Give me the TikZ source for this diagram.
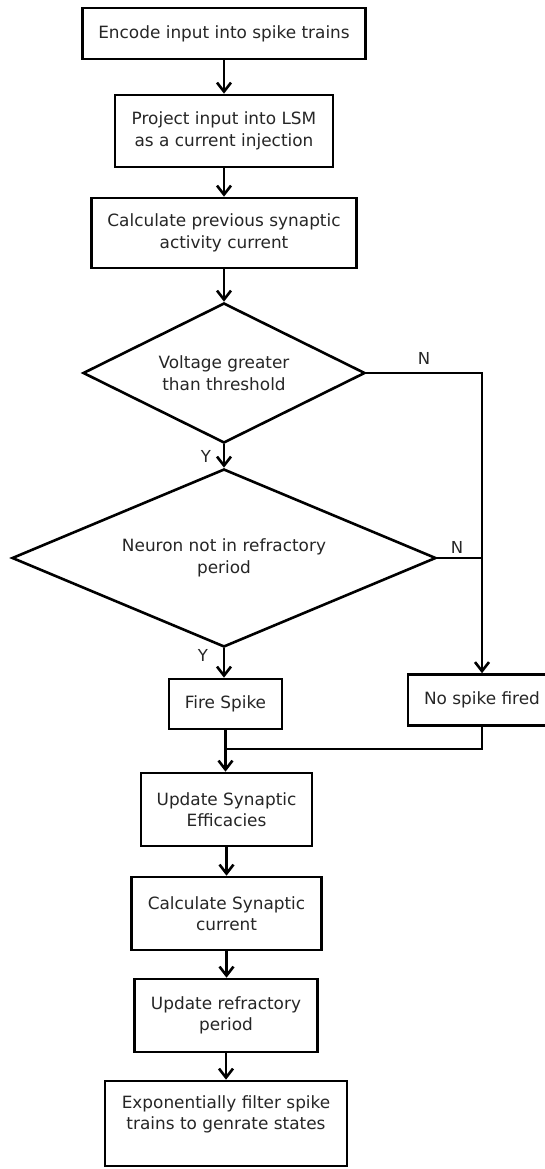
\documentclass[tikz,border=0pt]{standalone}
\usepackage{fontspec}
\setmainfont{DejaVu Sans}
\usetikzlibrary{shapes.geometric,arrows.meta}
\definecolor{txt}{HTML}{262626}
\begin{document}
\begin{tikzpicture}[x=1pt,y=-1pt,
  every node/.style={font=\fontsize{16.9}{21.5}\selectfont, text=txt, align=center, line width=2.6pt},
  box/.style={draw, rectangle, inner sep=0pt},
  dec/.style={draw, diamond, aspect=2, inner sep=0pt},
  flow/.style={line width=2.6pt, -{Straight Barb[length=9pt,width=14pt,line width=2.6pt]}},
  conn/.style={line width=2.6pt},
  lab/.style={font=\fontsize{16.5}{18}\selectfont, text=txt, inner sep=0pt}]
\useasboundingbox (0,0) rectangle (545,1169);
\fill[white] (0,0) rectangle (545,1169);
\node[box, minimum width=283pt, minimum height=51pt] (b1) at (224,33.5) {Encode input into spike trains};
\node[box, minimum width=218pt, minimum height=72pt] (b2) at (224,131) {Project input into LSM\\as a current injection};
\node[box, minimum width=265pt, minimum height=70pt] (b3) at (224,233) {Calculate previous synaptic\\activity current};
\node[dec, minimum width=282pt, minimum height=140pt] (d1) at (224,373) {Voltage greater\\than threshold};
\node[dec, minimum width=424pt, minimum height=178pt] (d2) at (224,558) {Neuron not in refractory\\period};
\node[box, minimum width=113pt, minimum height=50pt] (fs) at (225.5,704) {Fire Spike};
\node[box, minimum width=148pt, minimum height=51pt] (ns) at (482,700) {No spike fired};
\node[box, minimum width=171pt, minimum height=73pt] (use) at (226.5,809.5) {Update Synaptic\\Efficacies};
\node[box, minimum width=190pt, minimum height=73pt] (csc) at (226.5,913.5) {Calculate Synaptic\\current};
\node[box, minimum width=183pt, minimum height=73pt] (urp) at (226,1015.5) {Update refractory\\period};
\node[box, minimum width=242pt, minimum height=85pt] (ex) at (226,1123.5) {Exponentially filter spike\\trains to genrate states\\\mbox{}};
\coordinate (r1) at (482,373);
\coordinate (r2) at (482,558);
\coordinate (m) at (225.5,749);
\draw[flow] (b1) -- (b2);
\draw[flow] (b2) -- (b3);
\draw[flow] (b3) -- (d1);
\draw[flow] (d1) -- (d2);
\draw[flow] (d2.south) -- (d2.south |- fs.north);
\draw[flow] (d1.east) -- (r1) -- (ns.north);
\draw[conn] (d2.east) -- (r2);
\draw[conn] (ns.south) |- (m);
\draw[flow] (fs.south) -- (use.north -| fs.south);
\draw[flow] (use.south) -- (use.south |- csc.north);
\draw[flow] (csc.south) -- (csc.south |- urp.north);
\draw[flow] (urp.south) -- (urp.south |- ex.north);
\node[lab] (n1) at (424,358) {N};
\node[lab] (n2) at (457,547) {N};
\node[lab] (y1) at (206,456) {Y};
\node[lab] (y2) at (203,655) {Y};
\end{tikzpicture}
\end{document}
